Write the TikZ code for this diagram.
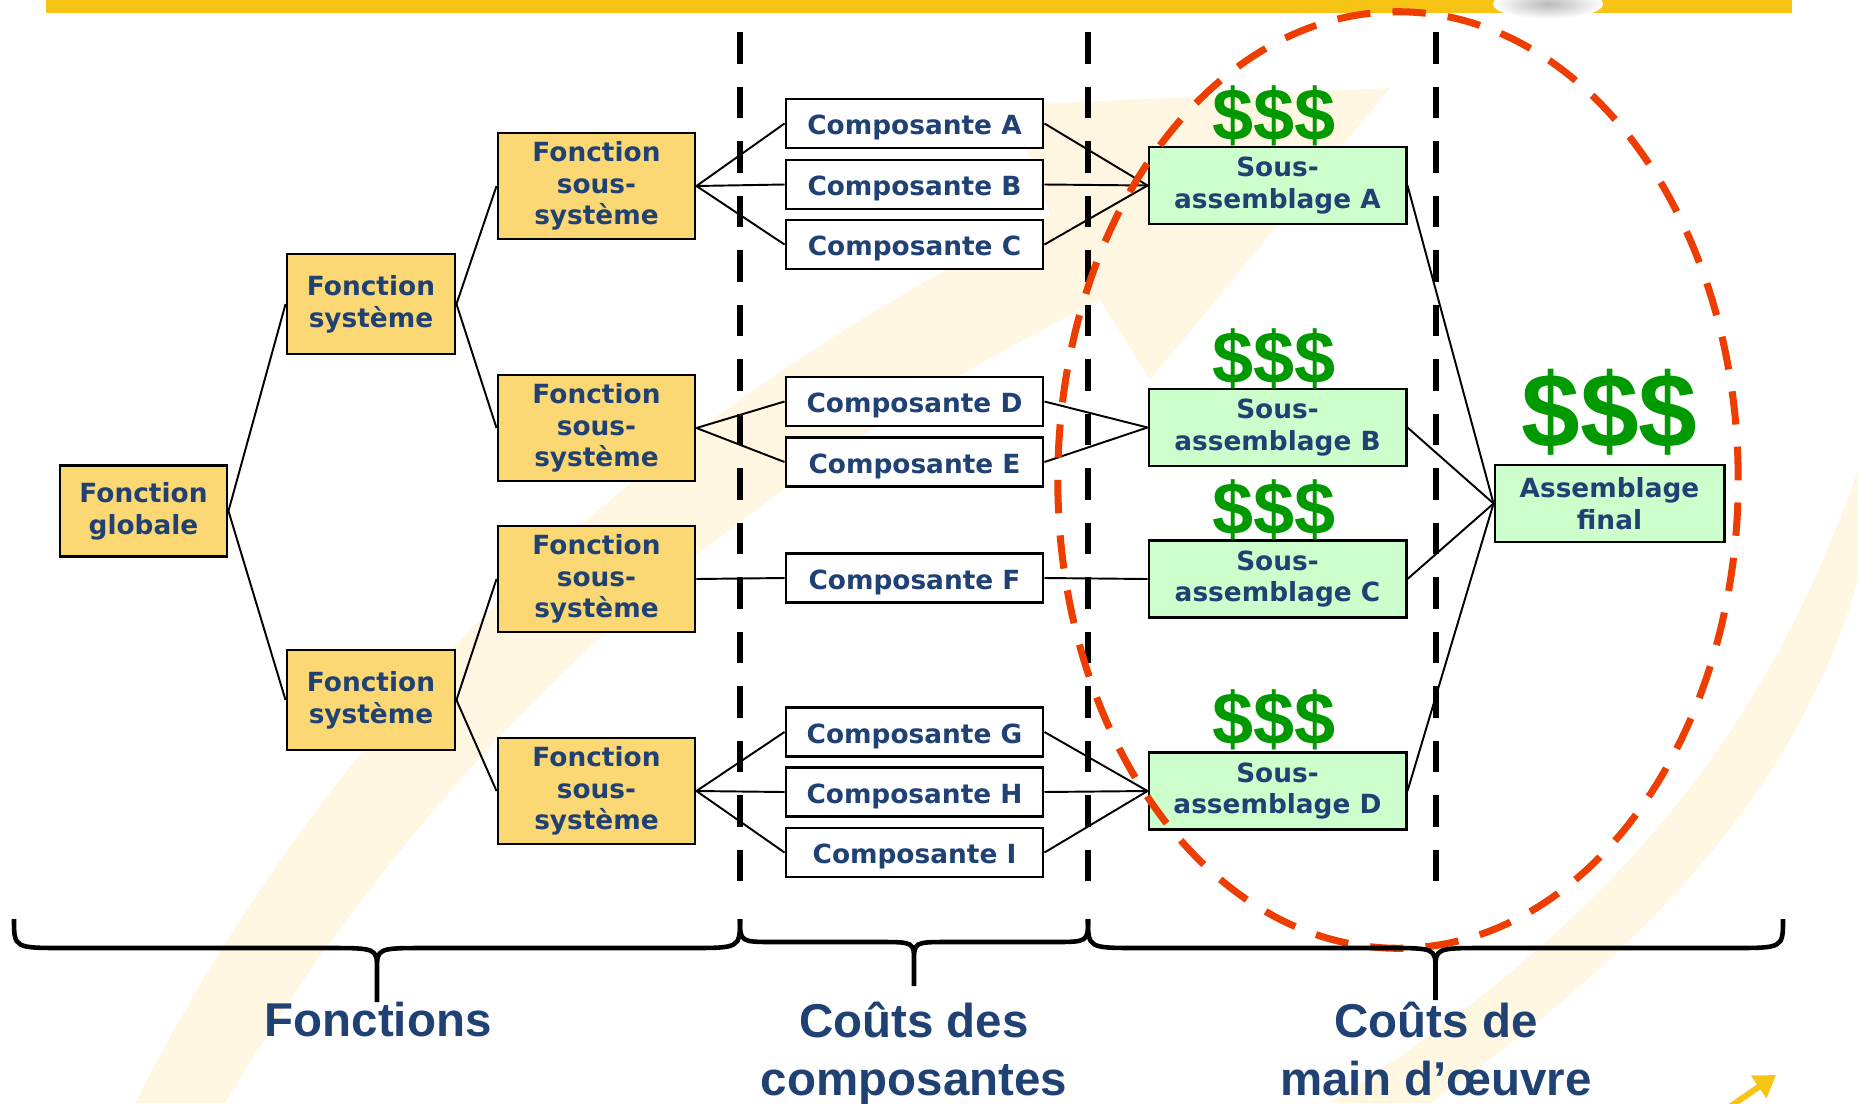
\documentclass[tikz,border=0pt]{standalone}
\usepackage{fontspec}
\usepackage{xcolor}
\usepackage{tikz}
\usetikzlibrary{arrows.meta}

\newfontfamily\boitefont{DejaVu Sans}
\newfontfamily\titrefont{Liberation Sans}

\definecolor{bleutexte}{HTML}{1F4173}
\definecolor{jaunebox}{HTML}{FCD874}
\definecolor{vertbox}{HTML}{CCFFCC}
\definecolor{vertdollar}{HTML}{009900}
\definecolor{rouge}{HTML}{EE3D00}
\definecolor{jaunebarre}{HTML}{F7C415}
\definecolor{creme}{HTML}{FFF7E2}

\tikzset{
  boite/.style={draw, line width=0.8pt, text=bleutexte, align=center, inner sep=0pt,
    font=\boitefont\bfseries\fontsize{7.5}{9}\selectfont,
    execute at begin node=\rule{0pt}{8pt}},
  fonction/.style={boite, fill=jaunebox},
  compo/.style={boite, fill=white, minimum width=2.57cm, minimum height=0.49cm},
  sousass/.style={boite, fill=vertbox, minimum width=2.57cm, minimum height=0.77cm},
  lien/.style={line width=0.55pt},
  separe/.style={line width=1.7pt, dash pattern=on 9pt off 6.5pt},
  dollars/.style={text=vertdollar, anchor=base, inner sep=0pt,
    font=\titrefont\bfseries\fontsize{21}{21}\selectfont},
  titre/.style={text=bleutexte, align=center, inner sep=0pt,
    font=\titrefont\bfseries\fontsize{13.5}{16.5}\selectfont},
  accolade/.style={line width=1.3pt}
}

% accolade: x gauche, x droite, y barre, y jonction, y pointe, rayon
\newcommand{\dessineaccolade}[6]{%
  \draw[accolade] (#1,919) .. controls (#1,#3) .. ({#1+#6},#3)
    -- ({(#1+#2)/2-#6},#3) .. controls ({(#1+#2)/2},#3) .. ({(#1+#2)/2},#4)
    -- ({(#1+#2)/2},#5)
    (#2,919) .. controls (#2,#3) .. ({#2-#6},#3)
    -- ({(#1+#2)/2+#6},#3) .. controls ({(#1+#2)/2},#3) .. ({(#1+#2)/2},#4);
}

\begin{document}
\begin{tikzpicture}[x=0.01cm, y=-0.01cm]
    \useasboundingbox (0,0) rectangle (1858,1103);

    % Fond (traits pales)
    \fill[creme] (135,1103) .. controls (330,720) and (620,430) .. (1050,215)
        -- (1010,105) -- (1390,88) -- (1150,380) -- (1100,300)
        .. controls (700,500) and (430,760) .. (225,1103) -- cycle;
    \fill[creme] (1858,470) .. controls (1760,750) and (1600,930) .. (1330,1103)
        -- (1430,1103) .. controls (1660,940) and (1800,780) .. (1858,580) -- cycle;

    % Barre du haut
    \fill[jaunebarre] (46,0) rectangle (1792,12.5);
    \shade[inner color=gray!55, outer color=white] (1548,4) ellipse [x radius=0.55cm, y radius=0.15cm];

    % Separations
    \foreach \x in {740,1088,1436}
    {
        \draw[separe] (\x,32) -- (\x,904);
    }

    % Fonctions
    \node[fonction, minimum width=1.67cm, minimum height=0.91cm] (glob) at (143.5,511) {Fonction\\globale};
    \node[fonction, minimum width=1.68cm, minimum height=1.0cm] (sys1) at (371,304) {Fonction\\système};
    \node[fonction, minimum width=1.68cm, minimum height=1.0cm] (sys2) at (371,700) {Fonction\\système};
    \foreach \n/\y in {1/186,2/428,3/579,4/791}
    {
        \node[fonction, minimum width=1.97cm, minimum height=1.06cm] (ss\n) at (596.5,\y) {Fonction\\sous-\\système};
    }

    % Composantes
    \foreach \l/\y in {A/123.5,B/184.5,C/244.5,D/401.5,E/462,F/578,G/732,H/792,I/852.5}
    {
        \node[compo] (comp\l) at (914.5,\y) {Composante \l};
    }

    % Sous-assemblages
    \foreach \l/\y in {A/185.5,B/427.5,C/579,D/791}
    {
        \node[sousass] (sa\l) at (1277.5,\y) {Sous-\\assemblage \l};
    }
    \node[sousass, minimum width=2.29cm] (final) at (1609.5,503.5) {Assemblage\\final};

    % Liens
    \foreach \a/\b in {glob/sys1,glob/sys2,sys1/ss1,sys1/ss2,sys2/ss3,sys2/ss4,
        ss1/compA,ss1/compB,ss1/compC,ss2/compD,ss2/compE,ss3/compF,ss4/compG,ss4/compH,ss4/compI,
        compA/saA,compB/saA,compC/saA,compD/saB,compE/saB,compF/saC,compG/saD,compH/saD,compI/saD,
        saA/final,saB/final,saC/final,saD/final}
    {
        \draw[lien] (\a.east) -- (\b.west);
    }

    % Couts
    \node[dollars] (dolA) at (1274,140) {\$\$\$};
    \node[dollars] (dolB) at (1274,383) {\$\$\$};
    \node[dollars] (dolC) at (1274,534) {\$\$\$};
    \node[dollars] (dolD) at (1274,744) {\$\$\$};
    \node[dollars, font=\titrefont\bfseries\fontsize{30}{30}\selectfont] (dolF) at (1609.5,447) {\$\$\$};

    % Ellipse main d'oeuvre
    \draw[rouge, line width=2pt, dash pattern=on 9.5pt off 6.3pt] (1398,480) ellipse [x radius=3.4cm, y radius=4.68cm];

    % Accolades
    \dessineaccolade{14}{740}{948}{970}{1002}{50}
    \dessineaccolade{740}{1088}{942}{962}{986}{35}
    \dessineaccolade{1088}{1783}{948}{970}{1000}{50}

    % Titres
    \node[titre, anchor=base] (tFonc) at (378,1036) {Fonctions};
    \node[titre, anchor=north] (tCompo) at (914,1001) {Coûts des\\composantes};
    \node[titre, anchor=north] (tMain) at (1436,1001) {Coûts de\\main d’œuvre};

    % Petite fleche
    \draw[jaunebarre, line width=1.7pt, -{Triangle[length=6pt, width=7.5pt]}] (1728,1108) -- (1776,1075);
\end{tikzpicture}
\end{document}
